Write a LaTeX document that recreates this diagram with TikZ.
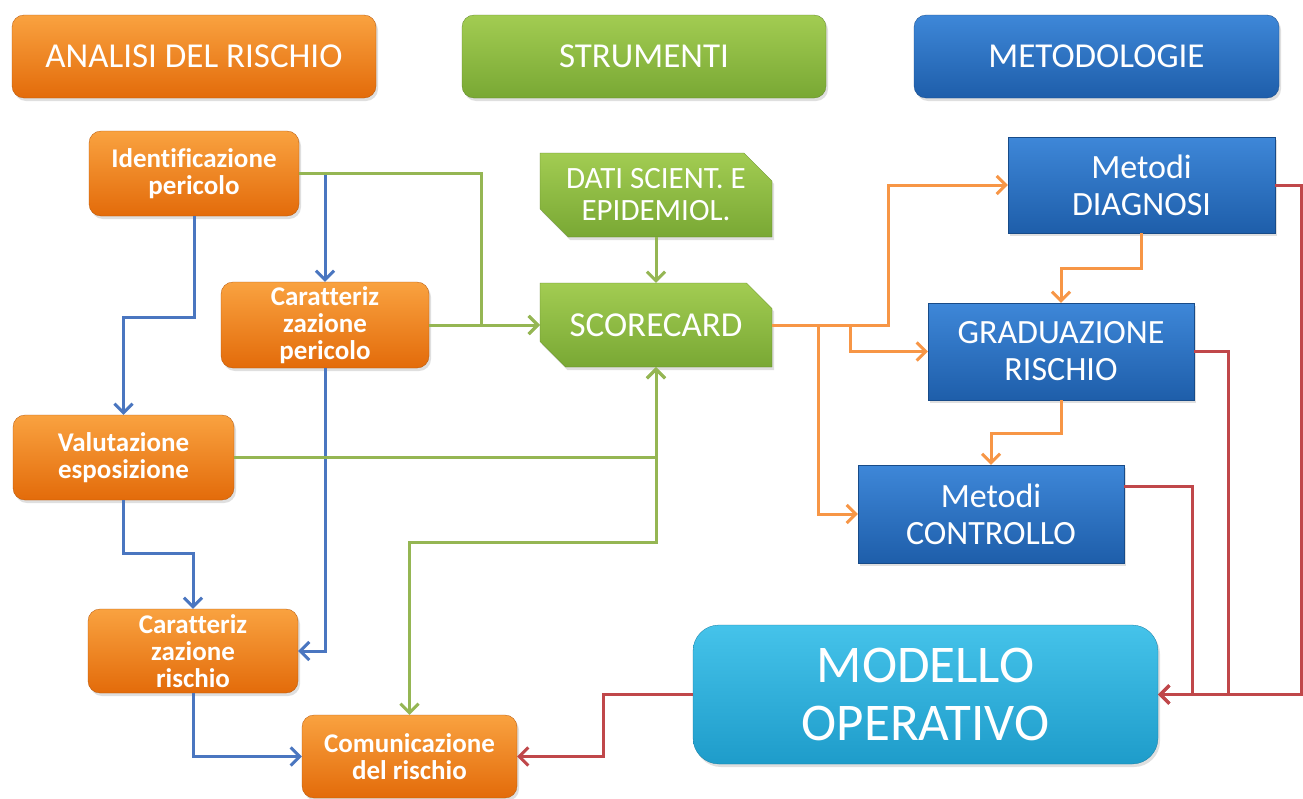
\documentclass[tikz,border=0pt]{standalone}
\usepackage{fontspec}
\setmainfont[Ligatures=NoCommon]{Carlito}
\usetikzlibrary{arrows.meta,shapes.misc,shadows}
\definecolor{lnblue}{HTML}{4A76C0}
\definecolor{lngreen}{HTML}{95B653}
\definecolor{lnorange}{HTML}{F79646}
\definecolor{lnred}{HTML}{C0474A}
\definecolor{orT}{HTML}{F9A240}
\definecolor{orB}{HTML}{E36B0A}
\definecolor{grT}{HTML}{A2CC52}
\definecolor{grB}{HTML}{79A834}
\definecolor{blT}{HTML}{3E87D8}
\definecolor{blB}{HTML}{1E5EAA}
\definecolor{cyT}{HTML}{45C3EA}
\definecolor{cyB}{HTML}{1E9CCA}
\tikzset{
  box/.style={inner sep=0pt, align=center, text=white,
    drop shadow={opacity=0.25, shadow xshift=2pt, shadow yshift=-3pt}},
  orbox/.style={box, rounded corners=12pt, top color=orT, bottom color=orB, draw=orB!80!black, line width=0.3pt},
  hdr/.style={orbox, font=\fontsize{35}{38}\selectfont},
  orsm/.style={orbox, font=\bfseries\fontsize{27}{27}\selectfont},
  grbox/.style={box, chamfered rectangle, chamfered rectangle corners={north east,south west},
    chamfered rectangle xsep=14pt, chamfered rectangle ysep=14pt,
    top color=grT, bottom color=grB, draw=grB!80!black, line width=0.3pt},
  grhdr/.style={box, rounded corners=12pt, top color=grT, bottom color=grB, draw=grB!80!black, line width=0.3pt, font=\fontsize{35}{38}\selectfont},
  blbox/.style={box, top color=blT, bottom color=blB, draw=blB!80!black, line width=0.3pt, font=\fontsize{34}{37}\selectfont},
  blhdr/.style={blbox, rounded corners=12pt, font=\fontsize{35}{38}\selectfont},
  cybox/.style={box, rounded corners=26pt, top color=cyT, bottom color=cyB, draw=cyB!80!black, line width=0.3pt, font=\fontsize{53}{58}\selectfont},
  tip/.tip={Straight Barb[length=9pt,width=18pt,line width=3pt]},
  conn/.style={line width=3pt, -tip},
  bl/.style={conn, draw=lnblue},
  gr/.style={conn, draw=lngreen},
  orl/.style={conn, draw=lnorange},
  rd/.style={conn, draw=lnred},
}
\begin{document}
\begin{tikzpicture}[x=1pt,y=-1pt]
\useasboundingbox[fill=white] (0,0) rectangle (1303,798);

% headers
\node[hdr, minimum width=364pt, minimum height=83pt] (hA) at (194,56.5) {ANALISI DEL RISCHIO};
\node[grhdr, minimum width=364pt, minimum height=83pt] (hS) at (644,56.5) {STRUMENTI};
\node[blhdr, minimum width=365pt, minimum height=83pt] (hM) at (1096.5,56.5) {METODOLOGIE};

% orange nodes
\node[orsm, minimum width=210pt, minimum height=85pt] (ident) at (194,173.5) {Identificazione\\pericolo};
\node[orsm, minimum width=208pt, minimum height=86pt] (carper) at (325,325) {Caratteriz\\zazione\\pericolo};
\node[orsm, minimum width=221pt, minimum height=85pt] (valut) at (123.5,457.5) {Valutazione\\esposizione};
\node[orsm, minimum width=210pt, minimum height=84pt] (carris) at (193,651) {Caratteriz\\zazione\\rischio};
\node[orsm, minimum width=215pt, minimum height=83pt] (comun) at (409.5,756.5) {Comunicazione\\del rischio};

% green nodes
\node[grbox, minimum width=232pt, minimum height=84pt, font=\fontsize{31}{32}\selectfont] (dati) at (656,195) {DATI SCIENT. E\\EPIDEMIOL.};
\node[grbox, minimum width=232pt, minimum height=84pt, font=\fontsize{35}{36}\selectfont] (score) at (656,325) {SCORECARD};

% blue nodes
\node[blbox, minimum width=267pt, minimum height=96pt] (diag) at (1141.5,185) {Metodi\\DIAGNOSI};
\node[blbox, minimum width=266pt, minimum height=97pt] (grad) at (1061,351.5) {GRADUAZIONE\\RISCHIO};
\node[blbox, minimum width=266pt, minimum height=98pt] (contr) at (991,514) {Metodi\\CONTROLLO};
\node[cybox, minimum width=465pt, minimum height=139pt] (model) at (925.5,694.5) {MODELLO\\OPERATIVO};

% blue connectors
\draw[bl] (ident.south) -- ++(0,101) -| (valut.north);
\draw[bl] (ident.east) -| (carper.north);
\draw[bl] (carper.south) |- (carris.east);
\draw[bl] (valut.south) -- ++(0,53) -| (carris.north);
\draw[bl] (carris.south) |- (comun.west);

% green connectors
\draw[gr] (ident.east) -- ++(182,0) |- (score.west);
\draw[gr] (carper.east) -- (score.west);
\draw[gr] (dati.south) -- (score.north);
\draw[gr] (valut.east) -| (score.south);
\draw[gr,tip-tip] (score.south) -- ++(0,175) -| (comun.north);

% orange connectors
\draw[orl] (score.east) -- ++(116,0) |- (diag.west);
\draw[orl] ([xshift=78pt]score.east) |- (grad.west);
\draw[orl] ([xshift=46pt]score.east) |- (contr.west);
\draw[orl] (diag.south) -- ++(0,35) -| (grad.north);
\draw[orl] (grad.south) -- ++(0,33) -| (contr.north);

% red connectors
\draw[rd] (diag.east) -- ++(26,0) |- (model.east);
\draw[rd] (grad.east) -- ++(34,0) |- (model.east);
\draw[rd] ([yshift=-22pt]contr.north east) -- ++(68,0) |- (model.east);
\draw[rd] (model.west) -- ++(-89,0) |- (comun.east);
\end{tikzpicture}
\end{document}
